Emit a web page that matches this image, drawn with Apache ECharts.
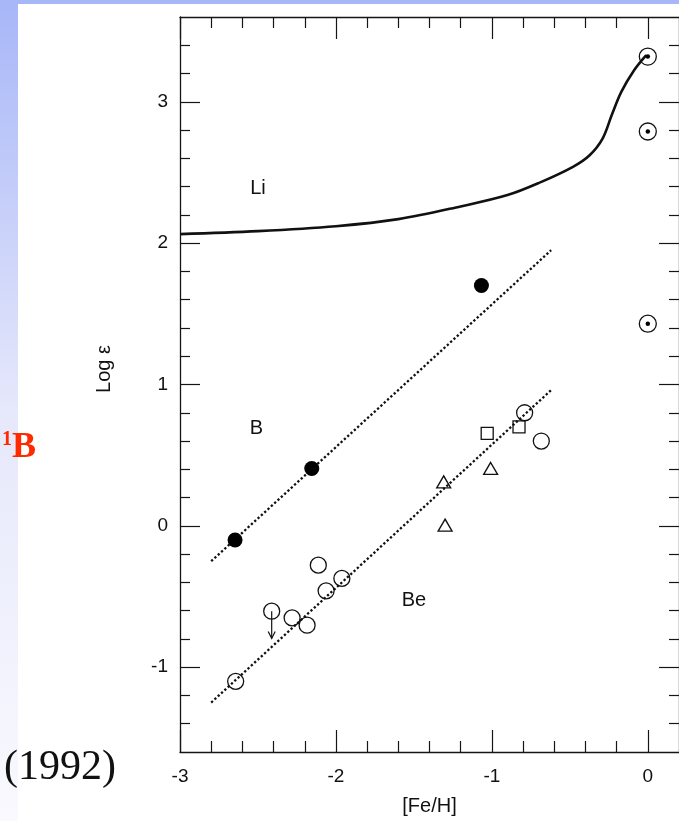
<!DOCTYPE html>
<html>
<head>
<meta charset="utf-8">
<script src="https://cdn.jsdelivr.net/npm/echarts@6/dist/echarts.min.js"></script>
<style>
  html, body { margin: 0; padding: 0; background: #fff; }
  #chart { width: 679px; height: 821px; }
</style>
</head>
<body>
<div id="chart"></div>
<script>
// Tick positions
const xMajorTicks = [-3, -2, -1, 0];
const xMinorTicks = [-2.8, -2.6, -2.4, -2.2, -1.8, -1.6, -1.4, -1.2, -0.8, -0.6, -0.4, -0.2];
const yMajorTicks = [-1, 0, 1, 2, 3];
const yMinorTicks = [-1.4, -1.2, -0.8, -0.6, -0.4, -0.2, 0.2, 0.4, 0.6, 0.8, 1.2, 1.4, 1.6, 1.8,
                     2.2, 2.4, 2.6, 2.8, 3.2, 3.4];

// Li evolution curve ([Fe/H], log eps)
const liCurve = [[-3.0, 2.064], [-2.5, 2.085], [-2.0, 2.12], [-1.6, 2.17],
                 [-1.2, 2.26], [-0.9, 2.34], [-0.69, 2.43], [-0.48, 2.54], [-0.375, 2.62],
                 [-0.29, 2.74], [-0.23, 2.91], [-0.17, 3.07], [-0.09, 3.22],
                 [-0.01, 3.33]];

// Boron: measurements and linear trend
const boronPoints = [[-2.647, -0.10], [-2.155, 0.406], [-1.067, 1.70]];
const boronFit = [[-2.8, -0.25], [-0.62, 1.95]];

// Beryllium: measurements by source and linear trend
const berylliumCircles = [[-2.643, -1.10], [-2.412, -0.604], [-2.281, -0.651], [-2.185, -0.703],
                          [-2.113, -0.278], [-2.063, -0.46], [-1.962, -0.372], [-0.79, 0.80],
                          [-0.683, 0.60]];
const berylliumSquares = [[-1.03, 0.654], [-0.826, 0.70]];
const berylliumTriangles = [[-1.309, 0.311], [-1.008, 0.406], [-1.30, 0.005]];
const berylliumFit = [[-2.8, -1.25], [-0.62, 0.96]];
// Upper limit: [Fe/H], measured value, arrow tip
const berylliumUpperLimits = [[-2.412, -0.604, -0.797]];

// Solar (meteoritic) values: Li, B, Be
const solarValues = [[0, 3.32], [0, 2.79], [0, 1.43]];

// Element tags
const elementTags = [
  { name: 'Li', value: [-2.50, 2.39] },
  { name: 'B', value: [-2.51, 0.69] },
  { name: 'Be', value: [-1.50, -0.526] }
];

const X_MIN = -3, X_MAX = 0.2, Y_MIN = -1.6, Y_MAX = 3.6;
const INK = '#151515';
const FONT = 'Liberation Sans';

function makeAxis(kind, position, ticks, tickLen, withLabels, withLine) {
  const isX = kind === 'x';
  return {
    type: 'value',
    position: position,
    min: isX ? X_MIN : Y_MIN,
    max: isX ? X_MAX : Y_MAX,
    splitLine: { show: false },
    axisLine: { show: withLine, onZero: false, lineStyle: { color: INK, width: 1.3 } },
    axisTick: { show: true, inside: true, length: tickLen, customValues: ticks,
                lineStyle: { color: INK, width: 1.2 } },
    axisLabel: withLabels ? {
      show: true, customValues: ticks, margin: isX ? 15 : 12,
      fontFamily: FONT, fontSize: 19, color: '#111'
    } : { show: false }
  };
}

const xAxes = [
  Object.assign(makeAxis('x', 'bottom', xMajorTicks, 22, true, true), {
    name: '[Fe/H]', nameLocation: 'middle', nameGap: 44,
    nameTextStyle: { fontFamily: FONT, fontSize: 20, color: '#111' }
  }),
  makeAxis('x', 'bottom', xMinorTicks, 11, false, false),
  makeAxis('x', 'top', xMajorTicks, 22, false, true),
  makeAxis('x', 'top', xMinorTicks, 11, false, false)
];
const yAxes = [
  makeAxis('y', 'left', yMajorTicks, 20, true, true),
  makeAxis('y', 'left', yMinorTicks, 10, false, false),
  makeAxis('y', 'right', yMajorTicks, 20, false, true),
  makeAxis('y', 'right', yMinorTicks, 10, false, false)
];

const openMark = { color: 'rgba(0,0,0,0)', borderColor: '#111', borderWidth: 1.3, opacity: 1 };

const chart = echarts.init(document.getElementById('chart'), null, { renderer: 'canvas' });

chart.setOption({
  animation: false,
  backgroundColor: '#ffffff',
  grid: { left: 180, top: 17, width: 508, height: 735, containLabel: false },
  xAxis: xAxes,
  yAxis: yAxes,
  graphic: [
    {
      type: 'rect', z: -100, silent: true,
      shape: { x: 0, y: 0, width: 679, height: 821 },
      style: {
        fill: new echarts.graphic.LinearGradient(0, 0, 0, 1, [
          { offset: 0, color: '#a7b6f8' },
          { offset: 0.5, color: '#e6e8fb' },
          { offset: 1, color: '#f9f9fe' }
        ])
      }
    },
    {
      type: 'rect', z: -99, silent: true,
      shape: { x: 18, y: 4, width: 661, height: 817 },
      style: { fill: '#ffffff' }
    },
    {
      type: 'text', silent: true,
      x: 104, y: 369, rotation: Math.PI / 2,
      style: {
        text: 'Log ε', fontFamily: FONT, fontSize: 20, fill: '#111',
        align: 'center', verticalAlign: 'middle'
      }
    },
    {
      type: 'text', silent: true,
      x: 2, y: 466,
      style: {
        text: '{s|1}{b|B}',
        verticalAlign: 'bottom',
        rich: {
          s: { fontFamily: 'Liberation Serif', fontWeight: 'bold', fontSize: 20, fill: '#ff2a00',
               verticalAlign: 'top', textShadowColor: '#7a1000', textShadowOffsetX: 1, textShadowOffsetY: 1 },
          b: { fontFamily: 'Liberation Serif', fontWeight: 'bold', fontSize: 36, fill: '#ff2a00',
               textShadowColor: '#7a1000', textShadowOffsetX: 1, textShadowOffsetY: 1 }
        }
      }
    },
    {
      type: 'text', silent: true,
      x: 4, y: 768,
      style: {
        text: '(1992)', fontFamily: 'Liberation Serif', fontSize: 42, fill: '#111',
        verticalAlign: 'middle'
      }
    }
  ],
  series: [
    {
      name: 'Li', type: 'line', data: liCurve, showSymbol: false, symbol: 'none',
      smooth: 0.35,
      lineStyle: { color: '#111', width: 2.6 }, z: 3
    },
    {
      name: 'B fit', type: 'line', data: boronFit, showSymbol: false, symbol: 'none',
      lineStyle: { color: '#111', width: 2.3, type: [2.3, 2.2] }
    },
    {
      name: 'Be fit', type: 'line', data: berylliumFit, showSymbol: false, symbol: 'none',
      lineStyle: { color: '#111', width: 2.3, type: [2.3, 2.2] }
    },
    {
      name: 'B', type: 'scatter', data: boronPoints, symbol: 'circle', symbolSize: 15,
      itemStyle: { color: '#000', opacity: 1 }, z: 4
    },
    {
      name: 'Be circles', type: 'scatter', data: berylliumCircles, symbol: 'circle', symbolSize: 16,
      itemStyle: openMark, z: 4
    },
    {
      name: 'Be squares', type: 'scatter', data: berylliumSquares, symbol: 'rect', symbolSize: 12,
      itemStyle: openMark, z: 4
    },
    {
      name: 'Be triangles', type: 'scatter', data: berylliumTriangles, symbol: 'triangle',
      symbolSize: [14, 12],
      itemStyle: openMark, z: 4
    },
    {
      name: 'Be upper limit', type: 'custom', data: berylliumUpperLimits, z: 4,
      renderItem: function (params, api) {
        const p0 = api.coord([api.value(0), api.value(1)]);
        const p1 = api.coord([api.value(0), api.value(2)]);
        const stroke = { stroke: '#111', lineWidth: 1.2, fill: null };
        return {
          type: 'group',
          children: [
            { type: 'line', shape: { x1: p0[0], y1: p0[1], x2: p1[0], y2: p1[1] }, style: stroke },
            { type: 'polyline',
              shape: { points: [[p1[0] - 3.5, p1[1] - 7], [p1[0], p1[1]], [p1[0] + 3.5, p1[1] - 7]] },
              style: stroke }
          ]
        };
      }
    },
    {
      name: 'Solar ring', type: 'scatter', data: solarValues, symbol: 'circle', symbolSize: 17,
      itemStyle: openMark, z: 4
    },
    {
      name: 'Solar dot', type: 'scatter', data: solarValues, symbol: 'circle', symbolSize: 4.5,
      itemStyle: { color: '#000', opacity: 1 }, z: 5
    },
    {
      name: 'Tags', type: 'scatter', data: elementTags, symbolSize: 1,
      itemStyle: { color: 'rgba(0,0,0,0)', opacity: 1 },
      label: {
        show: true, position: 'inside', formatter: '{b}',
        fontFamily: FONT, fontSize: 20, color: '#111'
      }
    }
  ]
});
</script>
</body>
</html>
